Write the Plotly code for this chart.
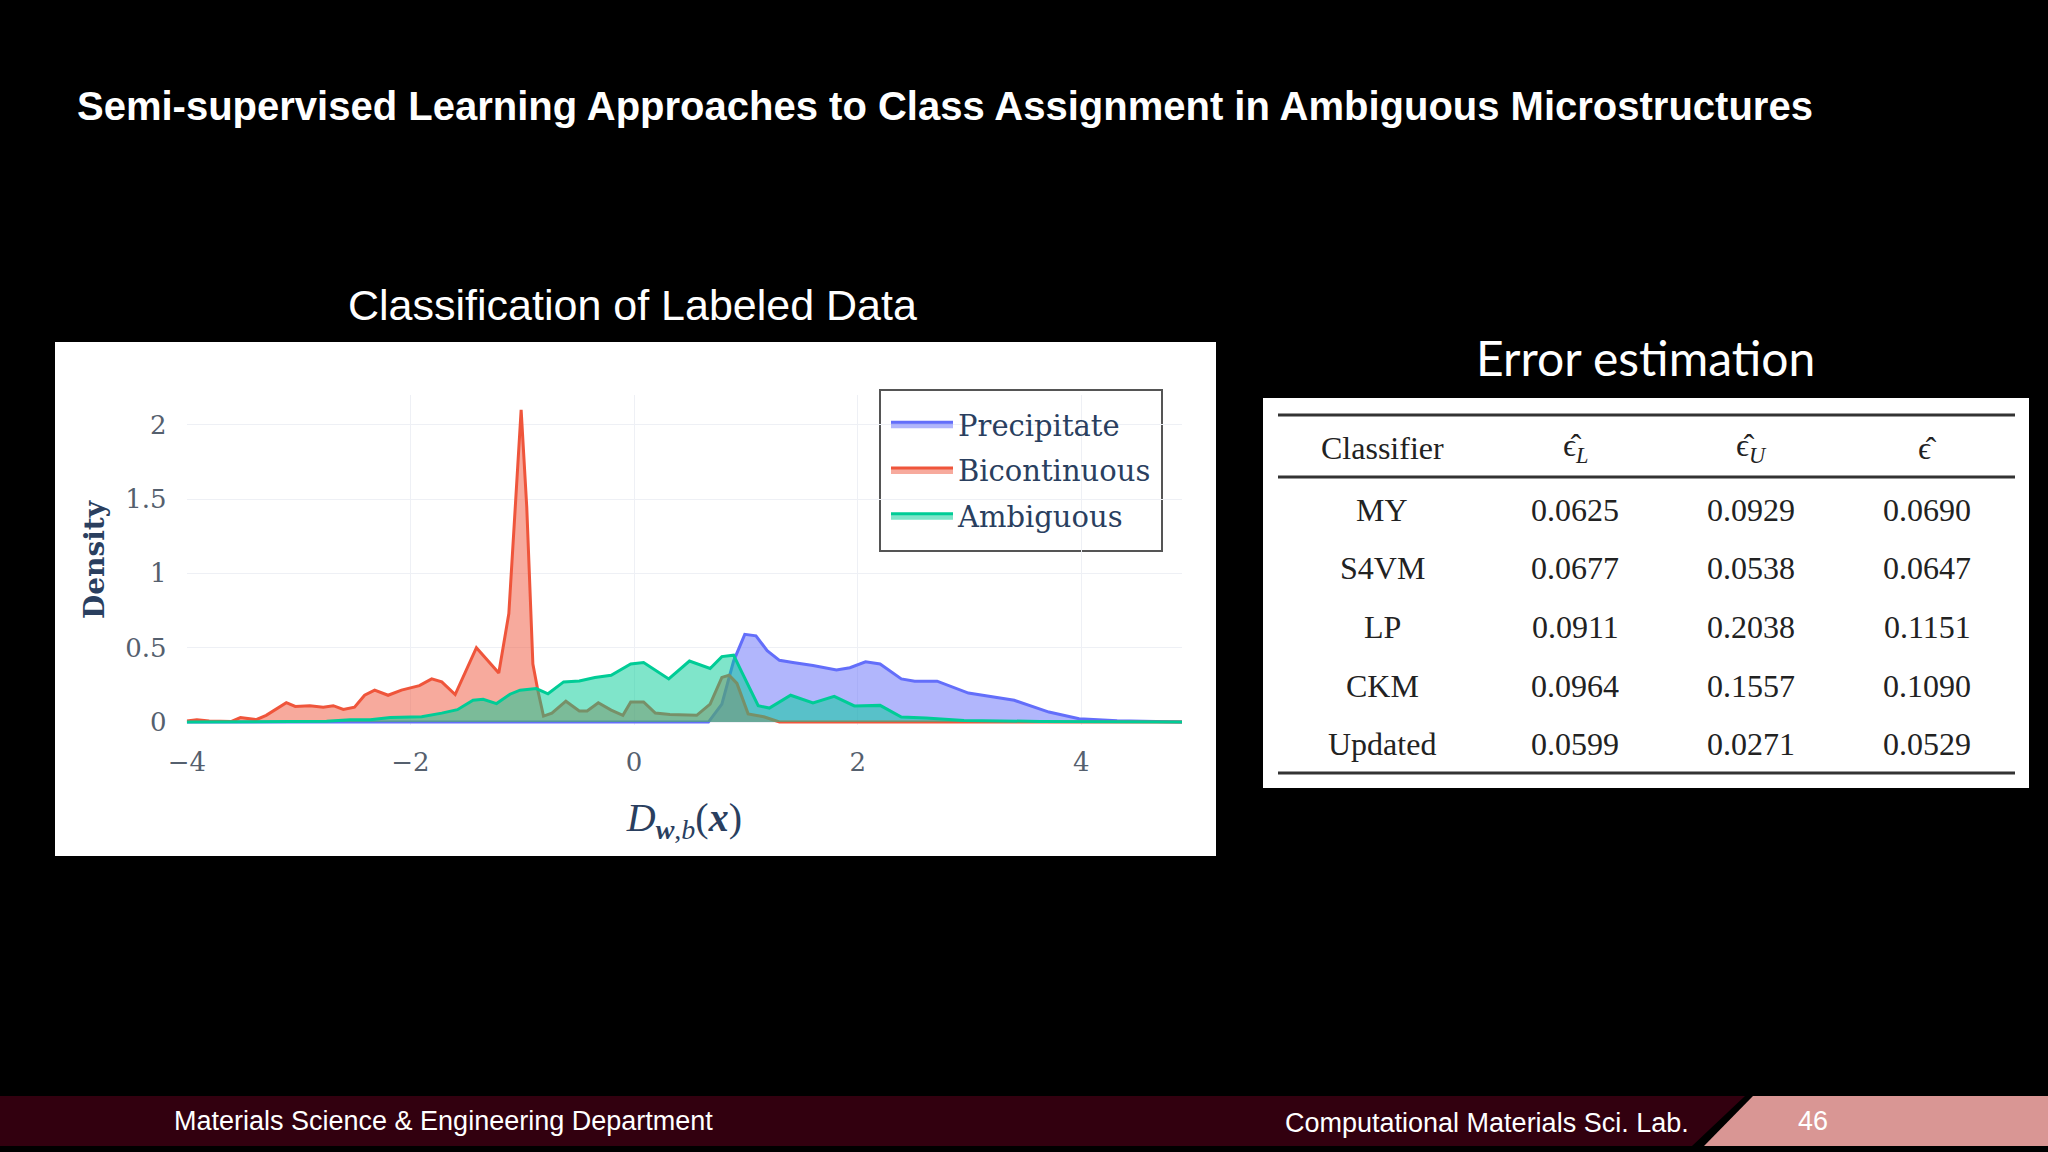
"""Slide: density of the decision value per class, next to the error estimation table."""

import plotly.graph_objects as go

W, H = 2048, 1152

TITLE = "Semi-supervised Learning Approaches to Class Assignment in Ambiguous Microstructures"
LEFT_HEADING = "Classification of Labeled Data"
RIGHT_HEADING = "Error estimation"
FOOTER_LEFT = "Materials Science & Engineering Department"
FOOTER_RIGHT = "Computational Materials Sci. Lab."
PAGE_NUMBER = "46"

precipitate_x = [-4, 0.6, 0.665, 0.785, 0.89, 0.99, 1.09, 1.19, 1.3, 1.42, 1.6, 1.81, 1.93, 2.07, 2.2,
                 2.39, 2.51, 2.71, 2.99, 3.4, 3.71, 3.98, 4.32, 4.9]
precipitate_y = [0, 0, 0.0, 0.12, 0.41, 0.59, 0.58, 0.48, 0.415, 0.4, 0.38, 0.35, 0.365, 0.405, 0.39,
                 0.29, 0.275, 0.275, 0.195, 0.146, 0.067, 0.022, 0.009, 0]

bicontinuous_x = [-4, -3.91, -3.8, -3.6, -3.52, -3.38, -3.29, -3.11, -3.03, -2.9, -2.78, -2.69, -2.6, -2.5,
                  -2.41, -2.32, -2.2, -2.08, -1.92, -1.81, -1.72, -1.6, -1.41, -1.21, -1.12, -1.01, -0.96,
                  -0.905, -0.86, -0.81, -0.735, -0.61, -0.49, -0.42, -0.32, -0.205, -0.1, -0.03, 0.085,
                  0.19, 0.32, 0.56, 0.68, 0.785, 0.85, 0.92, 1.02, 1.16, 1.3, 4.9]
bicontinuous_y = [0.007, 0.016, 0.007, 0.004, 0.03, 0.016, 0.045, 0.13, 0.105, 0.11, 0.1, 0.11, 0.085, 0.1,
                  0.18, 0.215, 0.18, 0.215, 0.245, 0.29, 0.27, 0.185, 0.5, 0.33, 0.73, 2.1, 1.45,
                  0.39, 0.21, 0.04, 0.06, 0.14, 0.075, 0.075, 0.13, 0.08, 0.045, 0.135, 0.135,
                  0.06, 0.05, 0.045, 0.12, 0.3, 0.315, 0.26, 0.055, 0.035, 0, 0]

ambiguous_x = [-4, -3.1, -2.75, -2.54, -2.36, -2.18, -1.9, -1.72, -1.58, -1.44, -1.35, -1.23, -1.11, -1.02,
               -0.875, -0.77, -0.63, -0.49, -0.35, -0.205, -0.03, 0.085, 0.19, 0.31, 0.495, 0.68, 0.785,
               0.89, 0.97, 1.11, 1.21, 1.4, 1.6, 1.79, 1.97, 2.2, 2.39, 2.61, 2.95, 3.63, 4.9]
ambiguous_y = [0, 0, 0.005, 0.016, 0.016, 0.03, 0.036, 0.06, 0.083, 0.146, 0.153, 0.124, 0.187, 0.214,
               0.225, 0.19, 0.27, 0.276, 0.3, 0.315, 0.39, 0.4, 0.35, 0.29, 0.41, 0.36, 0.44,
               0.45, 0.325, 0.11, 0.094, 0.18, 0.128, 0.173, 0.108, 0.112, 0.034, 0.027, 0.011, 0.004, 0]

x_ticks = [-4, -2, 0, 2, 4]
x_tick_labels = ["\u22124", "\u22122", "0", "2", "4"]
y_ticks = [0, 0.5, 1, 1.5, 2]
y_tick_labels = ["0", "0.5", "1", "1.5", "2"]

table_header = ["Classifier", "\u03f5\u0302<sub><i>L</i></sub>", "\u03f5\u0302<sub><i>U</i></sub>", "\u03f5\u0302"]
classifiers = ["MY", "S4VM", "LP", "CKM", "Updated"]
err_labeled = ["0.0625", "0.0677", "0.0911", "0.0964", "0.0599"]
err_unlabeled = ["0.0929", "0.0538", "0.2038", "0.1557", "0.0271"]
err_total = ["0.0690", "0.0647", "0.1151", "0.1090", "0.0529"]

SERIF = "Liberation Serif"
CHART_SERIF = "DejaVu Serif"
SANS = "Liberation Sans"
INK = "#2a3f5f"
TICK_INK = "#55606e"


def px(x):
    return x / W


def py(y):
    return 1 - y / H


def box(x0, y0, x1, y1, color, border=None):
    line = dict(color=border, width=2) if border else dict(width=0)
    return dict(type="rect", xref="paper", yref="paper", x0=px(x0), y0=py(y0), x1=px(x1), y1=py(y1),
                fillcolor=color, line=line, layer="below")


def polygon(points, color):
    path = "M " + " L ".join(f"{px(x):.5f},{py(y):.5f}" for x, y in points) + " Z"
    return dict(type="path", xref="paper", yref="paper", path=path, fillcolor=color, line_width=0, layer="below")


def rule(x0, x1, y):
    return dict(type="line", xref="paper", yref="paper", x0=px(x0), x1=px(x1), y0=py(y), y1=py(y),
                line=dict(color="#333333", width=3), layer="above")


def label(text, x, y, size, color="white", family=SANS, xanchor="center"):
    return dict(text=text, x=px(x), y=py(y), xref="paper", yref="paper", xanchor=xanchor, yanchor="middle",
                showarrow=False, font=dict(size=size, color=color, family=family))


fig = go.Figure()
for name, xs, ys, color in [
    ("Precipitate", precipitate_x, precipitate_y, "#636efa"),
    ("Bicontinuous", bicontinuous_x, bicontinuous_y, "#EF553B"),
    ("Ambiguous", ambiguous_x, ambiguous_y, "#00cc96"),
]:
    # one legend group per trace, only so tracegroupgap can open up the rows
    fig.add_trace(go.Scatter(x=xs, y=ys, name=name, legendgroup=name, mode="lines", fill="tozeroy",
                             line=dict(color=color, width=3)))

shapes = [
    box(55, 342, 1216, 856, "white"),
    box(1263, 398, 2029, 788, "white"),
    # legend frame, drawn apart so it can be larger than the legend's own box
    box(880, 390, 1162, 551, "white", border="#555555"),
    rule(1278, 2015, 415),
    rule(1278, 2015, 477),
    rule(1278, 2015, 773),
    polygon([(0, 1096), (1745, 1096), (1692, 1146), (0, 1146)], "#32000f"),
    polygon([(1753, 1096), (2048, 1096), (2048, 1146), (1704, 1146)], "#d99694"),
]

annotations = [
    label(f"<b>{TITLE}</b>", 75, 106, 40, xanchor="left"),
    label(LEFT_HEADING, 632, 305, 43),
    label(RIGHT_HEADING, 1645, 358, 48, family="Lato"),
    label(FOOTER_LEFT, 172, 1121, 27, xanchor="left"),
    label(FOOTER_RIGHT, 1283, 1123, 27, xanchor="left"),
    label(PAGE_NUMBER, 1813, 1121, 27),
]

column_x = [1382, 1575, 1751, 1927]
row_y = [510, 568, 627, 686, 744]
for x, text in zip(column_x, table_header):
    annotations.append(label(text, x, 448, 32, "#222222", SERIF))
for column, x in zip([classifiers, err_labeled, err_unlabeled, err_total], column_x):
    for text, y in zip(column, row_y):
        annotations.append(label(text, x, y, 32, "#222222", SERIF))

fig.update_layout(
    width=W,
    height=H,
    margin=dict(l=0, r=0, t=0, b=0),
    paper_bgcolor="black",
    plot_bgcolor="rgba(0,0,0,0)",
    shapes=shapes,
    annotations=annotations,
    xaxis=dict(
        domain=[px(186.8), px(1182)],
        range=[-4, 4.9],
        tickvals=x_ticks,
        ticktext=x_tick_labels,
        tickfont=dict(family=CHART_SERIF, size=26, color=TICK_INK),
        ticks="outside",
        ticklen=14,
        tickcolor="rgba(0,0,0,0)",
        gridcolor="#eef0f5",
        zeroline=False,
        showline=False,
        automargin=False,
        title=dict(text="<i>D</i><sub><b><i>w</i></b>,<i>b</i></sub>(<b><i>x</i></b>)", standoff=26,
                   font=dict(family=SERIF, size=40, color=INK)),
    ),
    yaxis=dict(
        domain=[py(725), py(395)],
        range=[-0.02, 2.2],
        tickvals=y_ticks,
        ticktext=y_tick_labels,
        tickfont=dict(family=CHART_SERIF, size=26, color=TICK_INK),
        ticks="outside",
        ticklen=14,
        tickcolor="rgba(0,0,0,0)",
        gridcolor="#eef0f5",
        zeroline=False,
        showline=False,
        automargin=False,
        title=dict(text="<b>Density</b>", standoff=12, font=dict(family=CHART_SERIF, size=28, color=INK)),
    ),
    legend=dict(
        x=px(886),
        y=py(399),
        xanchor="left",
        yanchor="top",
        bgcolor="rgba(0,0,0,0)",
        borderwidth=0,
        itemwidth=62,
        tracegroupgap=5,
        font=dict(family=CHART_SERIF, size=29, color=INK),
    ),
    showlegend=True,
)

fig.write_html("out.html", config={"displayModeBar": False},
               post_script="document.body.style.margin='0';document.body.style.overflow='hidden';")
